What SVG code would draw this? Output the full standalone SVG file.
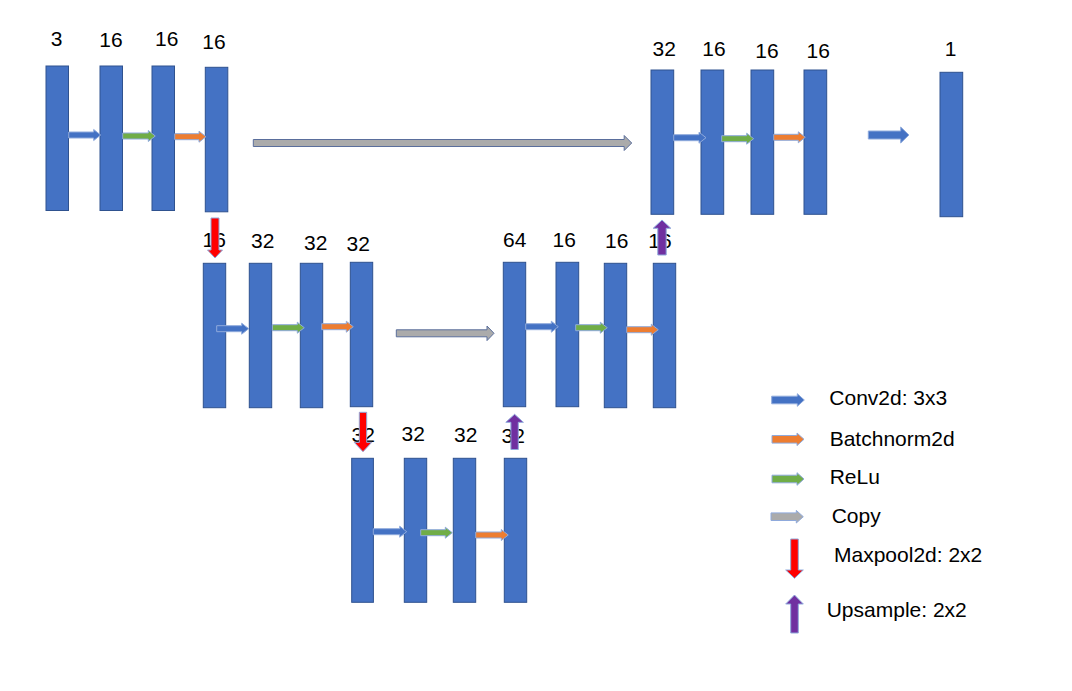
<svg xmlns="http://www.w3.org/2000/svg" width="1072" height="691" viewBox="0 0 1072 691">
<style>
.bar{fill:#4472C4;stroke:#2F528F;stroke-width:1}
.lbl{font-family:"Liberation Sans",Arial,sans-serif;font-size:21px;fill:#000;text-anchor:middle}
.leg{font-family:"Liberation Sans",Arial,sans-serif;font-size:21px;fill:#000}
.ab{fill:#4472C4;stroke:#8FAADC;stroke-width:1}
.ag{fill:#70AD47;stroke:#8FAADC;stroke-width:1}
.ao{fill:#ED7D31;stroke:#8FAADC;stroke-width:1}
.ac{fill:#ABABAB;stroke:#5A6E9C;stroke-width:1}
.ar{fill:#FF0000;stroke:#8FAADC;stroke-width:1}
.ap{fill:#7030A0;stroke:#8FAADC;stroke-width:1}
</style>
<rect width="1072" height="691" fill="#fff"/>
<g id="nodes">
<g id="e1a"><rect class="bar" x="46" y="66" width="22.5" height="144.5"/><text class="lbl" x="56.7" y="46">3</text></g>
<g id="e1b"><rect class="bar" x="100" y="66" width="22.5" height="144.5"/><text class="lbl" x="111" y="46.7">16</text></g>
<g id="e1c"><rect class="bar" x="152" y="66" width="22.5" height="144.5"/><text class="lbl" x="166.7" y="46">16</text></g>
<g id="e1d"><rect class="bar" x="205.3" y="67.3" width="22.5" height="144.5"/><text class="lbl" x="214" y="49">16</text></g>
<g id="d1a"><rect class="bar" x="651" y="70" width="22.7" height="144.3"/><text class="lbl" x="664.3" y="56">32</text></g>
<g id="d1b"><rect class="bar" x="701" y="70" width="22.7" height="144.3"/><text class="lbl" x="714" y="56">16</text></g>
<g id="d1c"><rect class="bar" x="751" y="70" width="22.7" height="144.3"/><text class="lbl" x="767" y="57.7">16</text></g>
<g id="d1d"><rect class="bar" x="804" y="70" width="22.7" height="144.3"/><text class="lbl" x="818.3" y="57.7">16</text></g>
<g id="out"><rect class="bar" x="940" y="72.3" width="22.7" height="144.4"/><text class="lbl" x="950.7" y="55.7">1</text></g>
<g id="e2a"><rect class="bar" x="203.3" y="263.3" width="22.4" height="144.4"/><text class="lbl" x="214.3" y="247">16</text></g>
<g id="e2b"><rect class="bar" x="249.3" y="263.3" width="22.4" height="144.4"/><text class="lbl" x="262.7" y="248">32</text></g>
<g id="e2c"><rect class="bar" x="300.3" y="263.3" width="22.4" height="144.4"/><text class="lbl" x="315.7" y="250">32</text></g>
<g id="e2d"><rect class="bar" x="350.3" y="262.3" width="22.4" height="144.4"/><text class="lbl" x="358.3" y="250.7">32</text></g>
<g id="d2a"><rect class="bar" x="503.3" y="262.3" width="22.4" height="144.4"/><text class="lbl" x="514.7" y="246.7">64</text></g>
<g id="d2b"><rect class="bar" x="556" y="262.3" width="22.7" height="144.4"/><text class="lbl" x="564.3" y="246.7">16</text></g>
<g id="d2c"><rect class="bar" x="604.3" y="263.3" width="22.4" height="144.4"/><text class="lbl" x="616.7" y="248.3">16</text></g>
<g id="d2d"><rect class="bar" x="653.3" y="263.3" width="22.4" height="144.4"/><text class="lbl" x="660" y="248">16</text></g>
<g id="b3a"><rect class="bar" x="351.7" y="458.3" width="21.7" height="144"/><text class="lbl" x="363.3" y="441.7">32</text></g>
<g id="b3b"><rect class="bar" x="404.3" y="458.3" width="22.4" height="144"/><text class="lbl" x="413.3" y="440.7">32</text></g>
<g id="b3c"><rect class="bar" x="453.3" y="458.3" width="22.4" height="144"/><text class="lbl" x="465.7" y="442.3">32</text></g>
<g id="b3d"><rect class="bar" x="504.3" y="458.3" width="22.4" height="144"/><text class="lbl" x="513.3" y="443.3">32</text></g>
</g>
<g id="connectors">
<polygon class="ab" points="68.7,132 93.7,132 93.7,129.5 100.7,135 93.7,140.5 93.7,138 68.7,138"/>
<polygon class="ag" points="122.7,133 148.3,133 148.3,130.5 155.3,136 148.3,141.5 148.3,139 122.7,139"/>
<polygon class="ao" points="174.7,133.7 199,133.7 199,131.2 206,136.7 199,142.2 199,139.7 174.7,139.7"/>
<polygon class="ac" points="253.3,139.5 624.2,139.5 624.2,135.5 631.7,143 624.2,150.5 624.2,146.5 253.3,146.5"/>
<polygon class="ab" points="673.7,134.7 699,134.7 699,132.2 706,137.7 699,143.2 699,140.7 673.7,140.7"/>
<polygon class="ag" points="721.7,135.7 746.7,135.7 746.7,133.2 753.7,138.7 746.7,144.2 746.7,141.7 721.7,141.7"/>
<polygon class="ao" points="773.7,134.3 798.3,134.3 798.3,131.8 805.3,137.3 798.3,142.8 798.3,140.3 773.7,140.3"/>
<polygon class="ab" points="868.3,131 900.7,131 900.7,127 909,135 900.7,143 900.7,139 868.3,139"/>
<polygon class="ab" points="216.7,325.7 241.7,325.7 241.7,323.2 248.7,328.7 241.7,334.2 241.7,331.7 216.7,331.7"/>
<polygon class="ag" points="272.3,324.7 297.3,324.7 297.3,322.2 304.3,327.7 297.3,333.2 297.3,330.7 272.3,330.7"/>
<polygon class="ao" points="321.7,323.7 346.3,323.7 346.3,321.2 353.3,326.7 346.3,332.2 346.3,329.7 321.7,329.7"/>
<polygon class="ac" points="396.3,329.8 487,329.8 487,326 494,333.3 487,340.6 487,336.8 396.3,336.8"/>
<polygon class="ab" points="525.7,323.7 551.3,323.7 551.3,321.2 558.3,326.7 551.3,332.2 551.3,329.7 525.7,329.7"/>
<polygon class="ag" points="575.7,324.7 600.3,324.7 600.3,322.2 607.3,327.7 600.3,333.2 600.3,330.7 575.7,330.7"/>
<polygon class="ao" points="626.7,326.7 651.3,326.7 651.3,324.2 658.3,329.7 651.3,335.2 651.3,332.7 626.7,332.7"/>
<polygon class="ab" points="373.3,528.7 399.7,528.7 399.7,526.2 406.7,531.7 399.7,537.2 399.7,534.7 373.3,534.7"/>
<polygon class="ag" points="420.7,529.7 445.3,529.7 445.3,527.2 452.3,532.7 445.3,538.2 445.3,535.7 420.7,535.7"/>
<polygon class="ao" points="475.7,532 501.3,532 501.3,529.5 508.3,535 501.3,540.5 501.3,538 475.7,538"/>
<polygon class="ar" points="211,218 219,218 219,250 222.5,250 215,258 207.5,250 211,250"/>
<polygon class="ap" points="662,220 670.8,228.3 666.2,228.3 666.2,255 657.8,255 657.8,228.3 653.2,228.3"/>
<polygon class="ar" points="359.3,412.3 366.7,412.3 366.7,442.3 371.8,442.3 363,451.7 354.2,442.3 359.3,442.3"/>
<polygon class="ap" points="514.6,414.3 523.4,422.3 518.3,422.3 518.3,449.5 510.9,449.5 510.9,422.3 505.8,422.3"/>
</g>
<g id="legend">
<g id="leg-conv"><polygon class="ab" points="771.7,396.2 797.3,396.2 797.3,393.7 804.3,400 797.3,406.3 797.3,403.8 771.7,403.8"/><text class="leg" x="829.3" y="405">Conv2d: 3x3</text></g>
<g id="leg-bn"><polygon class="ao" points="772,435.5 797,435.5 797,433 804,439.3 797,445.6 797,443.1 772,443.1"/><text class="leg" x="829.7" y="445.7">Batchnorm2d</text></g>
<g id="leg-relu"><polygon class="ag" points="772,475.2 797,475.2 797,472.7 804,479 797,485.3 797,482.8 772,482.8"/><text class="leg" x="829.7" y="484">ReLu</text></g>
<g id="leg-copy"><polygon class="ac" points="771,512.9 796.3,512.9 796.3,510.4 803.3,516.7 796.3,523 796.3,520.5 771,520.5" style="stroke:#8FAADC"/><text class="leg" x="831.7" y="523">Copy</text></g>
<g id="leg-max"><polygon class="ar" points="790.7,539 798.3,539 798.3,570 803.3,570 794.5,578.3 785.7,570 790.7,570"/><text class="leg" x="834" y="561.7">Maxpool2d: 2x2</text></g>
<g id="leg-up"><polygon class="ap" points="794.5,595 803.3,604 798.3,604 798.3,633 790.7,633 790.7,604 785.7,604"/><text class="leg" x="826.7" y="616.7">Upsample: 2x2</text></g>
</g>
</svg>
